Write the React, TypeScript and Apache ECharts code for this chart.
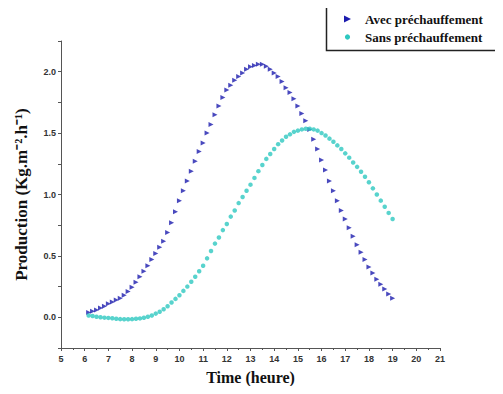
import React, { useEffect, useRef } from "react";
import * as echarts from "echarts";

// Measurements every 10 minutes from 6:10 to 19:00
const startHour = 6 + 1 / 6;
const stepHour = 1 / 6;

const avecPrechauffement = [
  0.04, 0.05, 0.06, 0.075, 0.09, 0.11,
  0.125, 0.14, 0.155, 0.18, 0.21, 0.245,
  0.285, 0.33, 0.375, 0.42, 0.47, 0.52,
  0.57, 0.62, 0.69, 0.77, 0.86, 0.95,
  1.03, 1.11, 1.19, 1.27, 1.35, 1.42,
  1.5, 1.57, 1.65, 1.72, 1.79, 1.85,
  1.89, 1.93, 1.96, 1.99, 2.02, 2.04,
  2.05, 2.06, 2.06, 2.045, 2.02, 1.99,
  1.96, 1.92, 1.87, 1.83, 1.78, 1.72,
  1.66, 1.6, 1.53, 1.45, 1.37, 1.28,
  1.2, 1.11, 1.03, 0.95, 0.87, 0.8,
  0.73, 0.66, 0.59, 0.53, 0.47, 0.41,
  0.36, 0.31, 0.27, 0.23, 0.19, 0.155,
];

const sansPrechauffement = [
  0.015, 0.01, 0.005, 0.0, -0.003, -0.005,
  -0.008, -0.012, -0.015, -0.016, -0.016, -0.015,
  -0.012, -0.009, -0.004, 0.004, 0.015, 0.03,
  0.045, 0.065, 0.09, 0.12, 0.15, 0.18,
  0.215, 0.25, 0.29, 0.33, 0.375, 0.42,
  0.48, 0.54, 0.6, 0.65, 0.71, 0.76,
  0.82, 0.87, 0.93, 0.98, 1.03, 1.08,
  1.135, 1.19, 1.24, 1.29, 1.33, 1.37,
  1.41, 1.44, 1.47, 1.49, 1.51, 1.52,
  1.53, 1.535, 1.535, 1.53, 1.52, 1.5,
  1.48, 1.455, 1.43, 1.4, 1.37, 1.335,
  1.3, 1.26, 1.225, 1.185, 1.145, 1.1,
  1.05, 1.0, 0.95, 0.9, 0.85, 0.8,
];

const seriesNames = ["Avec préchauffement", "Sans préchauffement"];
const xTitle = "Time (heure)";
const yTitle = "Production (Kg.m⁻².h⁻¹)";
const yLabelValues = [0, 0.5, 1, 1.5, 2];

const tri = "path://M0,0L10,5L0,10Z";
const blue = "#1c1cae";
const cyan = "#2ec8c0";

export default function App() {
  const ref = useRef<HTMLDivElement>(null);
  useEffect(() => {
    if (!ref.current) return;
    const chart = echarts.init(ref.current, undefined, { renderer: "svg" });
    const toPairs = (vals: number[]) =>
      vals.map((v, i) => [startHour + i * stepHour, v]);
    const axisLineStyle = { color: "#555", width: 1 };
    const legendText = {
      fontFamily: "Liberation Serif",
      fontWeight: "bold",
      fontSize: 13,
      fill: "#111",
      verticalAlign: "middle",
      align: "left",
    };
    chart.setOption({
      animation: false,
      backgroundColor: "#fff",
      grid: { left: 61, right: 63, top: 41, bottom: 46, containLabel: false },
      graphic: [
        {
          type: "rect",
          shape: { x: 326.5, y: 6.5, width: 200, height: 44 },
          style: { fill: "#fff", stroke: "#222", lineWidth: 1.5 },
          z: 10,
        },
        {
          type: "polygon",
          shape: { points: [[344, 15.5], [351, 19], [344, 22.5]] },
          style: { fill: blue },
          z: 11,
        },
        {
          type: "circle",
          shape: { cx: 347.5, cy: 37, r: 2.6 },
          style: { fill: cyan },
          z: 11,
        },
        {
          type: "text",
          x: 365,
          y: 19,
          style: { ...legendText, text: seriesNames[0] },
          z: 11,
        },
        {
          type: "text",
          x: 365,
          y: 37,
          style: { ...legendText, text: seriesNames[1] },
          z: 11,
        },
      ],
      xAxis: {
        type: "value",
        min: 5,
        max: 21,
        interval: 1,
        name: xTitle,
        nameLocation: "middle",
        nameGap: 21,
        nameTextStyle: {
          fontFamily: "Liberation Serif",
          fontWeight: "bold",
          fontSize: 16,
          color: "#111",
        },
        splitLine: { show: false },
        axisLine: { lineStyle: axisLineStyle, onZero: false },
        axisTick: { length: 3, lineStyle: axisLineStyle },
        minorTick: { show: true, splitNumber: 2, length: 2, lineStyle: axisLineStyle },
        axisLabel: {
          fontFamily: "Liberation Sans",
          fontWeight: "bold",
          fontSize: 9,
          color: "#333",
          margin: 6,
        },
      },
      yAxis: {
        type: "value",
        min: -0.25,
        max: 2.25,
        interval: 0.25,
        name: yTitle,
        nameLocation: "middle",
        nameGap: 31,
        nameTextStyle: {
          fontFamily: "Liberation Serif",
          fontWeight: "bold",
          fontSize: 17,
          color: "#111",
        },
        splitLine: { show: false },
        axisLine: { show: true, lineStyle: axisLineStyle },
        axisTick: { length: 3, lineStyle: axisLineStyle },
        axisLabel: {
          fontFamily: "Liberation Sans",
          fontWeight: "bold",
          fontSize: 9,
          color: "#333",
          margin: 5,
          formatter: (v: number) =>
            yLabelValues.some((t) => Math.abs(t - v) < 1e-6) ? v.toFixed(1) : "",
        },
      },
      series: [
        {
          name: seriesNames[0],
          type: "scatter",
          symbol: tri,
          symbolSize: 5,
          itemStyle: { color: blue },
          data: toPairs(avecPrechauffement),
        },
        {
          name: seriesNames[1],
          type: "scatter",
          symbol: "circle",
          symbolSize: 4.5,
          itemStyle: { color: cyan },
          data: toPairs(sansPrechauffement),
        },
      ],
    });
    return () => chart.dispose();
  }, []);
  return <div ref={ref} style={{ width: 503, height: 394, margin: -8 }} />;
}
